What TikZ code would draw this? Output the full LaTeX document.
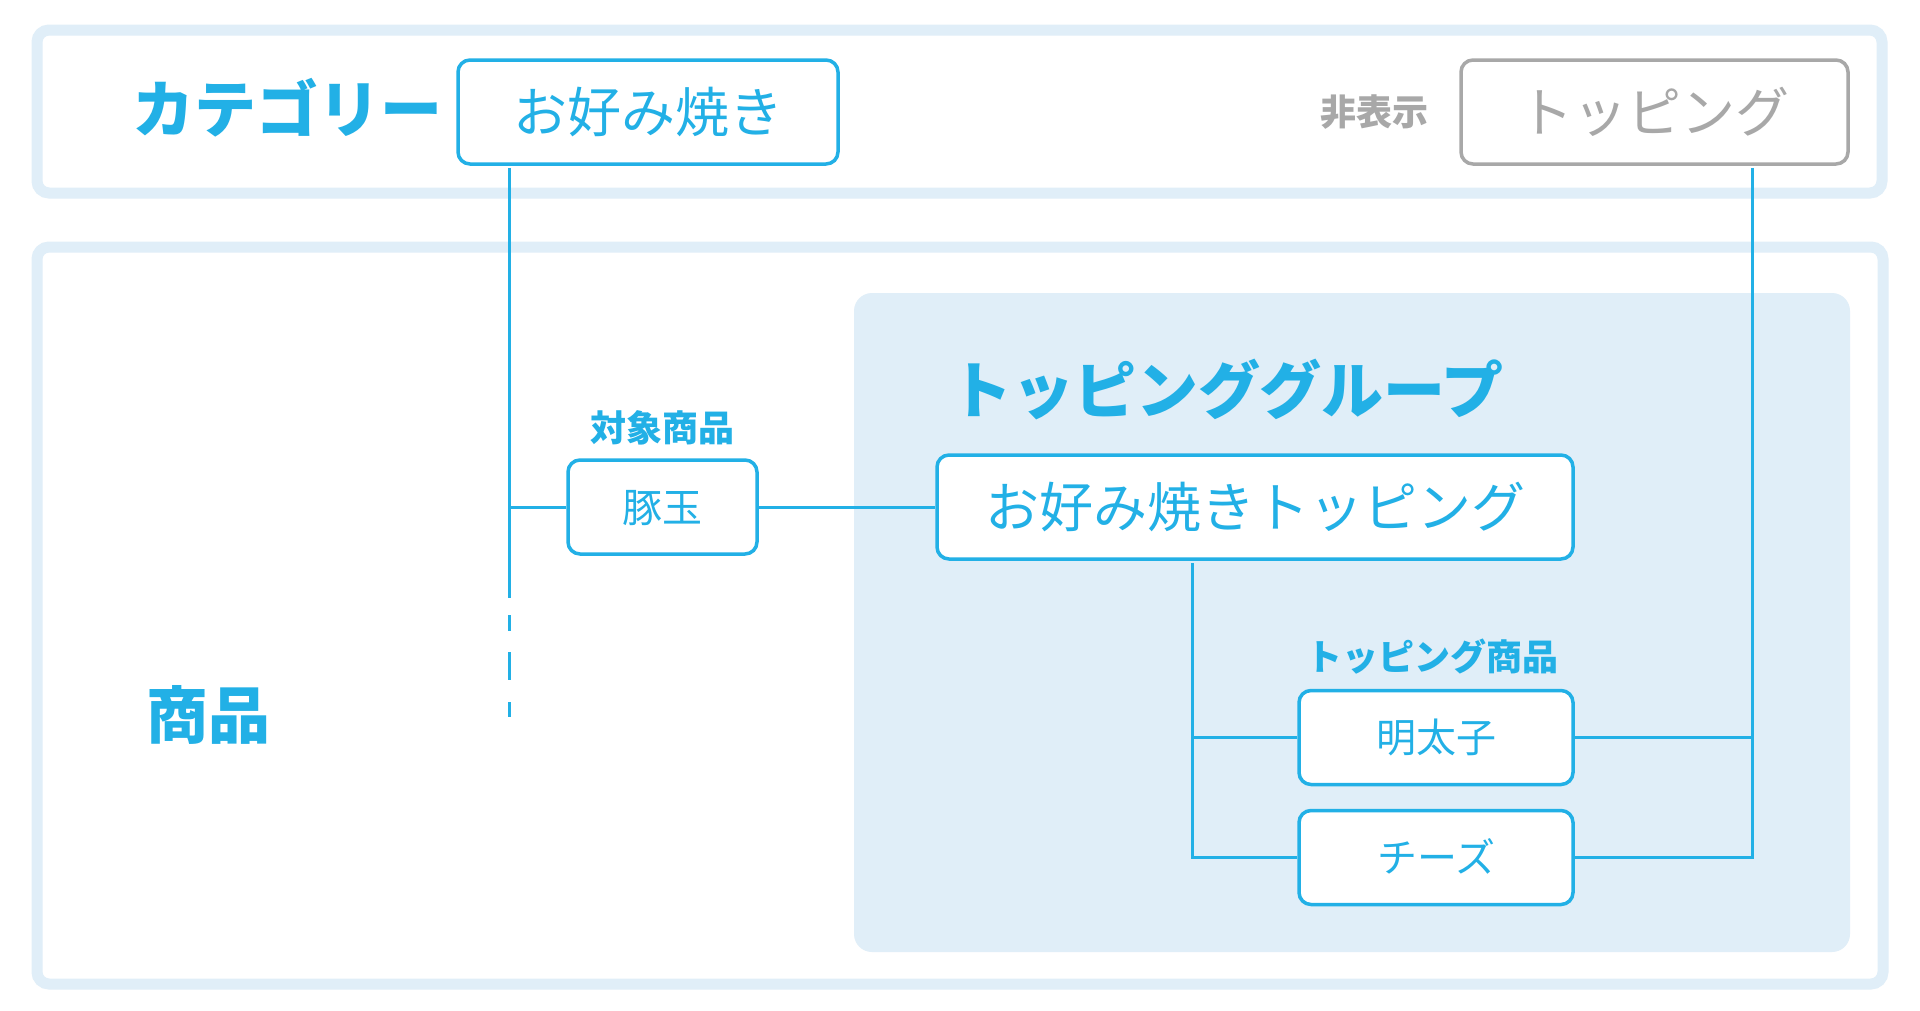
\documentclass[tikz,border=0pt]{standalone}
\usepackage{fontspec}
\newfontfamily\jp{Noto Sans CJK JP}
\usepackage{tikz}
\definecolor{skyblue}{HTML}{22B0E6}
\definecolor{paleblue}{HTML}{E0EEF8}
\definecolor{offgray}{HTML}{A8A8A8}
\newcommand{\fsz}[1]{\fontsize{#1}{#1}\selectfont}

\begin{document}
\begin{tikzpicture}[x=1pt,y=-1pt,
  frame/.style={draw=paleblue,line width=11pt,rounded corners=12pt},
  heading/.style={text=skyblue,inner sep=0pt,font=\jp\bfseries\fsz{62},text height=54.5pt,text depth=7.5pt},
  sublabel/.style={text=skyblue,inner sep=0pt,font=\jp\bfseries\fsz{36},text height=31.7pt,text depth=4.3pt},
  bigbox/.style={draw=skyblue,text=skyblue,fill=white,line width=3.5pt,rounded corners=12pt,inner sep=0pt,
    minimum height=104pt,font=\jp\fsz{54},text height=47.5pt,text depth=6.5pt},
  itembox/.style={draw=skyblue,text=skyblue,fill=white,line width=3.5pt,rounded corners=12pt,inner sep=0pt,
    minimum height=94pt,font=\jp\fsz{40},text height=35.2pt,text depth=4.8pt},
  link/.style={draw=skyblue,line width=3pt}]
  \useasboundingbox (0,0) rectangle (1920,1010);
  \fill[white] (0,0) rectangle (1920,1010);
  \draw[frame] (37,30) rectangle (1882,193);
  \draw[frame] (37,247) rectangle (1883,984);
  \fill[paleblue,rounded corners=18pt] (854,293) rectangle (1850,952);

  \node[heading] (category) at (287,109) {カテゴリー};
  \node[bigbox,minimum width=380pt] (okonomi) at (648,112) {お好み焼き};
  \node[sublabel,text=offgray] (hidden) at (1374,112) {非表示};
  \node[bigbox,draw=offgray,text=offgray,minimum width=387pt] (topping) at (1654.5,112) {トッピング};

  \node[heading] (items) at (208,715) {商品};
  \node[heading] (groupname) at (1227,390) {トッピンググループ};
  \node[sublabel] (target) at (662,428) {対象商品};
  \node[itembox,minimum width=189pt] (butatama) at (662.5,507) {豚玉};
  \node[bigbox,minimum width=636pt] (group) at (1255,507) {お好み焼きトッピング};
  \node[sublabel] (toppingitems) at (1432,657) {トッピング商品};
  \node[itembox,minimum width=274pt] (mentai) at (1436,737.5) {明太子};
  \node[itembox,minimum width=274pt] (cheese) at (1436,857.5) {チーズ};

  \coordinate (trunk) at (509,598);
  \coordinate (trunkend) at (509,717);
  \coordinate (gtrunk) at (1192,858);
  \coordinate (rtrunk) at (1752,858);

  \draw[link,shorten <=2pt] (okonomi.south -| trunk) -- (trunk);
  \draw[link,dash pattern=on 0pt off 17pt on 16pt off 21pt on 28pt off 22pt on 15pt off 50pt] (trunk) -- (trunkend);
  \draw[link] (butatama.west) -- (butatama.west -| trunk);
  \draw[link] (butatama.east) -- (group.west);
  \draw[link,shorten <=2pt] (group.south -| gtrunk) |- (cheese.west);
  \draw[link] (mentai.west) -- (mentai.west -| gtrunk);
  \draw[link,shorten <=2pt] (topping.south -| rtrunk) |- (cheese.east);
  \draw[link] (mentai.east) -- (mentai.east -| rtrunk);
\end{tikzpicture}
\end{document}
